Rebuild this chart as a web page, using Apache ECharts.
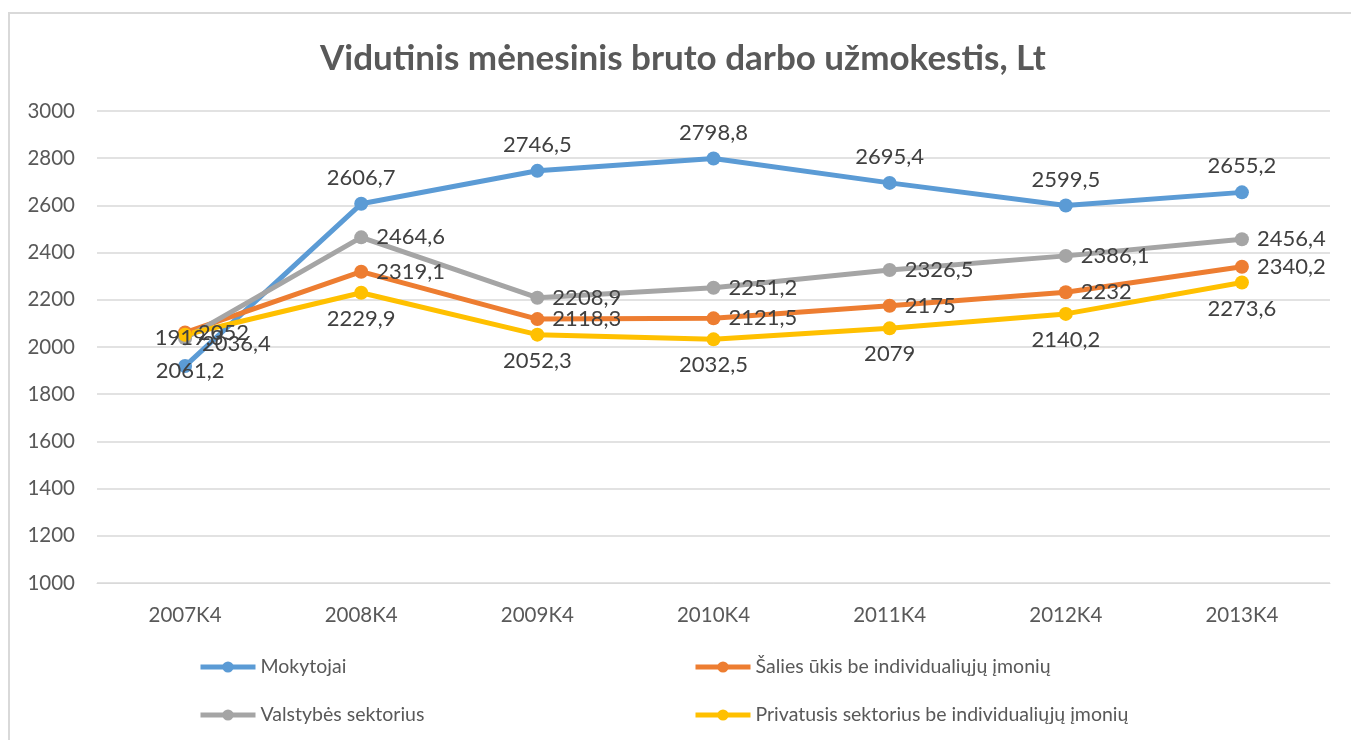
<!DOCTYPE html>
<html><head><meta charset="utf-8">
<script src="https://cdn.jsdelivr.net/npm/echarts@6/dist/echarts.min.js"></script>
<style>html,body{margin:0;padding:0;background:#fff}#c{width:1351px;height:740px}</style>
</head><body><div id="c"></div>
<script>
const categories = ['2007K4','2008K4','2009K4','2010K4','2011K4','2012K4','2013K4'];
const mokytojai = [1919.3, 2606.7, 2746.5, 2798.8, 2695.4, 2599.5, 2655.2];
const salies = [2061.2, 2319.1, 2118.3, 2121.5, 2175, 2232, 2340.2];
const valstybes = [2036.4, 2464.6, 2208.9, 2251.2, 2326.5, 2386.1, 2456.4];
const privatusis = [2052, 2229.9, 2052.3, 2032.5, 2079, 2140.2, 2273.6];
const yTicks = [1000, 3000, 200];
const names = ['Mokytojai','Šalies ūkis be individualiųjų įmonių','Valstybės sektorius','Privatusis sektorius be individualiųjų įmonių'];

const FONT = 'Lato, "Open Sans", sans-serif';
const fmt = p => String(p.value).replace('.', ',');
function mk(name, data, color, pos, firstLabel) {
  const d = data.map((v, i) => i === 0 && firstLabel ? {value: v, label: firstLabel} : v);
  return {
    name, type: 'line', data: d, symbol: 'circle', symbolSize: 14,
    lineStyle: {width: 5, color}, itemStyle: {color},
    label: {show: true, position: pos, distance: 8, formatter: fmt, fontFamily: FONT, fontSize: 22, color: '#404040'},
    z: 2
  };
}
const legendBase = {orient: 'vertical', top: 657, padding: 0, itemGap: 28, itemWidth: 55, itemHeight: 14,
  lineStyle: {width: 5}, textStyle: {fontFamily: FONT, fontSize: 19.5, color: '#595959'}};
const chart = echarts.init(document.getElementById('c'));
chart.setOption({
  animation: false,
  title: {text: 'Vidutinis mėnesinis bruto darbo užmokestis, Lt', left: 315, top: 36,
    textStyle: {fontFamily: FONT, fontWeight: 'bold', fontSize: 35, color: '#595959'}},
  graphic: [{type: 'rect', shape: {x: 9, y: 13, width: 1400, height: 800}, style: {fill: 'none', stroke: '#d9d9d9', lineWidth: 2}, silent: true, z: -1}],
  grid: {left: 97, right: 21, top: 111, bottom: 157},
  xAxis: {type: 'category', data: categories, boundaryGap: true,
    axisLine: {lineStyle: {color: '#d9d9d9'}}, axisTick: {show: false},
    axisLabel: {fontFamily: FONT, fontSize: 20.5, color: '#595959', margin: 22}},
  yAxis: {type: 'value', min: yTicks[0], max: yTicks[1], interval: yTicks[2],
    axisLine: {show: false}, axisTick: {show: false},
    splitLine: {lineStyle: {color: '#d9d9d9', width: 1.5}},
    axisLabel: {fontFamily: FONT, fontSize: 20.5, color: '#595959', margin: 22, formatter: v => String(v)}},
  legend: [
    Object.assign({data: [names[0], names[2]], left: 198}, legendBase),
    Object.assign({data: [names[1], names[3]], left: 693}, legendBase)
  ],
  series: [
    mk(names[0], mokytojai, '#5B9BD5', 'top', {position: 'top', offset: [4, -2]}),
    mk(names[1], salies, '#ED7D31', 'right', {position: 'bottom', offset: [5, 12]}),
    mk(names[2], valstybes, '#A5A5A5', 'right', {position: 'right', offset: [2, 5]}),
    mk(names[3], privatusis, '#FFC000', 'bottom', {position: 'right', offset: [-2, -2]})
  ]
});
</script></body></html>
